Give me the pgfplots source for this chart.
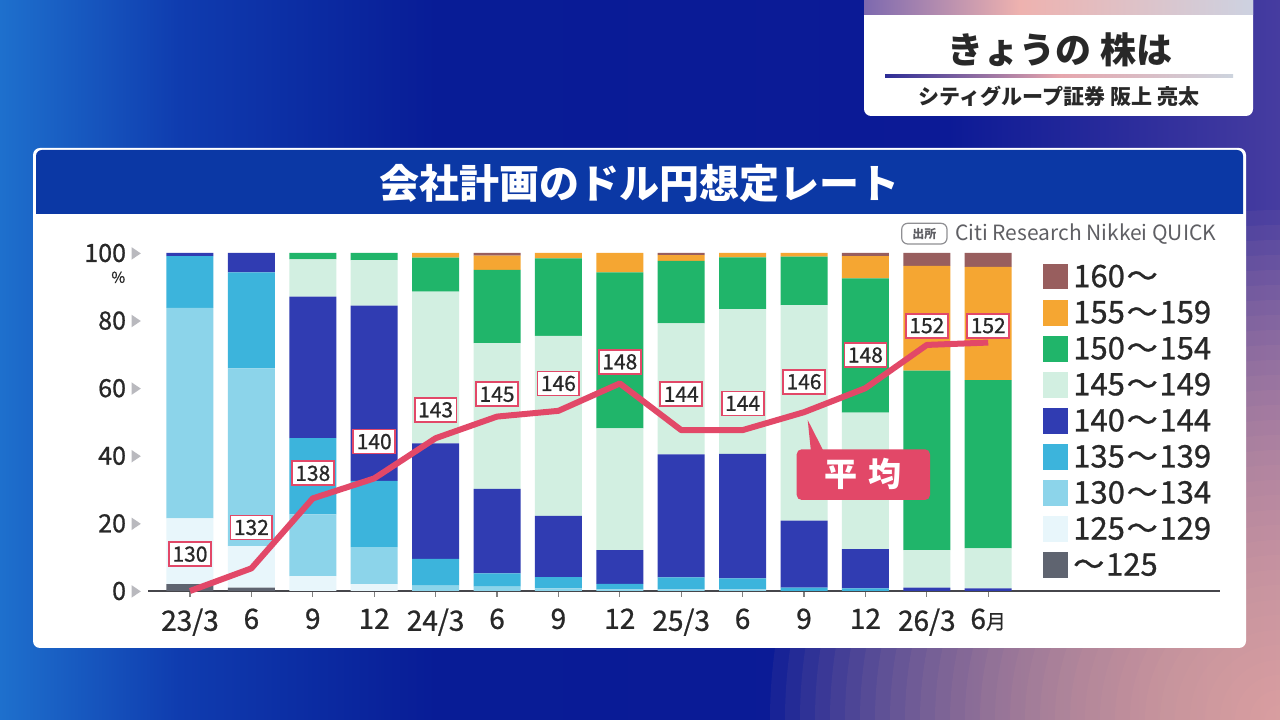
\documentclass[border=0pt]{standalone}
\usepackage{fontspec}
\setmainfont{Noto Sans CJK JP}
\newfontfamily\medfont{Noto Sans CJK JP}[FakeBold=0.8]
\usepackage{pgfplots}
\pgfplotsset{compat=1.18}
\definecolor{c160}{RGB}{152,94,94}
\definecolor{c155}{RGB}{245,166,50}
\definecolor{c150}{RGB}{32,181,106}
\definecolor{c145}{RGB}{210,239,225}
\definecolor{c140}{RGB}{48,60,178}
\definecolor{c135}{RGB}{60,180,220}
\definecolor{c130}{RGB}{140,212,234}
\definecolor{c125}{RGB}{232,246,251}
\definecolor{clow}{RGB}{95,100,112}
\definecolor{avgred}{RGB}{226,72,104}
\definecolor{titleblue}{RGB}{11,56,165}
\definecolor{txt}{RGB}{40,40,40}
\definecolor{srcgray}{RGB}{95,95,100}
\definecolor{trigray}{RGB}{185,185,190}
\definecolor{axisgray}{RGB}{70,70,75}
\definecolor{bg1}{RGB}{30,112,205}
\definecolor{bg2}{RGB}{15,60,175}
\definecolor{bg3}{RGB}{8,28,150}
\definecolor{bg4}{RGB}{12,26,150}
\definecolor{bg5}{RGB}{70,60,160}
\definecolor{glow}{RGB}{250,185,162}
\definecolor{bandL}{RGB}{125,105,175}
\definecolor{bandM}{RGB}{238,178,175}
\definecolor{bandR}{RGB}{205,210,225}
\definecolor{divL}{RGB}{45,45,150}
\definecolor{divM}{RGB}{230,165,172}
\definecolor{divR}{RGB}{205,212,222}
\pgfdeclarehorizontalshading{bgsh}{100bp}{color(0bp)=(bg1); color(25bp)=(bg1); color(32bp)=(bg2); color(42bp)=(bg3); color(62bp)=(bg4); color(75bp)=(bg5); color(100bp)=(bg5)}
\pgfdeclarehorizontalshading{bandsh}{100bp}{color(0bp)=(bandL); color(25bp)=(bandL); color(45bp)=(bandM); color(75bp)=(bandR); color(100bp)=(bandR)}
\pgfdeclarehorizontalshading{divsh}{100bp}{color(0bp)=(divL); color(25bp)=(divL); color(50bp)=(divM); color(75bp)=(divR); color(100bp)=(divR)}
\newcommand{\tl}{\hspace{1.8pt}～\hspace{1.8pt}}
\begin{document}
\begin{tikzpicture}[x=1pt,y=1pt]
\useasboundingbox (0,0) rectangle (1280,720);
\clip (0,0) rectangle (1280,720);
% background
\shade[shading=bgsh] (0,0) rectangle (1280,720);
\foreach \r in {15,30,...,510} {\fill[glow, opacity=0.055] (1280,0) circle (\r);}
% top right box
\fill[white, rounded corners=7pt] (864,604) rectangle (1253,740);
\shade[shading=bandsh] (864,705) rectangle (1253,720);
\node[font=\fontsize{36}{36}\selectfont\bfseries, text=txt] at (1060,670) {きょうの\hspace{9pt}株は};
\shade[shading=divsh] (885,642.5) rectangle (1233,645.5);
\node[font=\fontsize{21}{21}\selectfont\bfseries, text=txt] at (1059,624) {シティグループ証券 阪上 亮太};
% card
\fill[white, rounded corners=7pt] (33,72) rectangle (1246,572);
\fill[titleblue] (36,506) [rounded corners=6pt]-- (36,570) -- (1243,570) [sharp corners]-- (1243,506) -- cycle;
\node[font=\fontsize{40}{40}\selectfont\bfseries, text=white] at (639,537) {会社計画のドル円想定レート};
% source
\draw[srcgray!70, line width=1.2pt, rounded corners=6pt] (901.7,476) rectangle (947,496.7);
\node[font=\fontsize{12}{12}\selectfont\bfseries, text=srcgray] at (924.3,486.3) {出所};
\node[anchor=base west, inner sep=0pt, font=\fontsize{21}{21}\selectfont, text=srcgray] at (955,479.8) {Citi Research Nikkei QUICK};
\node[font=\fontsize{15}{15}\selectfont\medfont, text=txt] at (118.3,442.7) {\%};
\begin{axis}[
  at={(148pt,129pt)}, anchor=south west,
  scale only axis, width=1072pt, height=338pt,
  xmin=-0.684, xmax=16.775, ymin=0, ymax=100,
  ybar stacked, bar width=47pt,
  axis lines*=left,
  y axis line style={draw=none},
  x axis line style={draw=axisgray, line width=2pt},
  ytick={0,20,40,60,80,100},
  ytick style={draw=none},
  yticklabel={\pgfmathprintnumber[assume math mode=true]{\tick}\hspace{5.5pt}\tikz[baseline=0pt]\fill[trigray] (0pt,2.2pt)--(9.3pt,8.5pt)--(0pt,14.8pt)--cycle;},
  yticklabel style={anchor=east, inner sep=0pt, xshift=-7pt, font=\fontsize{25}{25}\selectfont\medfont, text=txt},
  xtick={0,1,...,13},
  xticklabels={23/3,6,9,12,24/3,6,9,12,25/3,6,9,12,26/3,{6{\fontsize{20}{20}\selectfont 月}}},
  xtick align=outside, major tick length=6pt,
  xtick style={draw=gray, line width=1.2pt},
  xticklabel style={font=\fontsize{28}{28}\selectfont\medfont, text=txt, yshift=-8pt},
  legend style={at={(0.8346,0.9678)}, anchor=north west, draw=none, fill=none, inner sep=0pt, outer sep=0pt,
    row sep=10.45pt, font=\fontsize{31}{31}\selectfont\medfont, text=txt,
    nodes={inner sep=0pt, text height=23pt, text depth=2pt},
    /tikz/every odd column/.append style={column sep=5pt}},
  legend cell align=left, reverse legend,
  legend image code/.code={\fill[#1] (0pt,-12.8pt) rectangle (25.6pt,12.8pt);},
]
\addplot[fill=clow, draw=none] coordinates {(0,2) (1,1) (2,0) (3,0) (4,0) (5,0) (6,0) (7,0) (8,0) (9,0) (10,0) (11,0) (12,0) (13,0)};
\addplot[fill=c125, draw=none] coordinates {(0,19.5) (1,12.3) (2,4.4) (3,2.0) (4,0) (5,0) (6,0) (7,0) (8,0) (9,0) (10,0) (11,0) (12,0) (13,0)};
\addplot[fill=c130, draw=none] coordinates {(0,62.3) (1,52.6) (2,18.3) (3,11.0) (4,1.6) (5,1.3) (6,0.8) (7,0.5) (8,0.5) (9,0.5) (10,0) (11,0) (12,0) (13,0)};
\addplot[fill=c135, draw=none] coordinates {(0,15.3) (1,28.4) (2,22.5) (3,19.6) (4,7.9) (5,3.9) (6,3.3) (7,1.6) (8,3.5) (9,3.2) (10,1.0) (11,0.8) (12,0) (13,0)};
\addplot[fill=c140, draw=none] coordinates {(0,0.9) (1,5.7) (2,41.9) (3,51.8) (4,34.2) (5,25.0) (6,18.1) (7,10.0) (8,36.4) (9,36.9) (10,19.8) (11,11.6) (12,1.0) (13,0.8)};
\addplot[fill=c145, draw=none] coordinates {(0,0) (1,0) (2,11.0) (3,13.5) (4,44.9) (5,43.1) (6,53.3) (7,36.0) (8,38.8) (9,42.8) (10,63.8) (11,40.4) (12,11.1) (13,11.8)};
\addplot[fill=c150, draw=none] coordinates {(0,0) (1,0) (2,1.9) (3,2.1) (4,10.0) (5,21.7) (6,22.9) (7,46.2) (8,18.5) (9,15.3) (10,14.3) (11,39.7) (12,53.1) (13,49.8)};
\addplot[fill=c155, draw=none] coordinates {(0,0) (1,0) (2,0) (3,0) (4,1.4) (5,4.2) (6,1.6) (7,5.7) (8,1.7) (9,1.3) (10,1.1) (11,6.6) (12,31.0) (13,33.5)};
\addplot[fill=c160, draw=none] coordinates {(0,0) (1,0) (2,0) (3,0) (4,0) (5,0.8) (6,0) (7,0) (8,0.6) (9,0) (10,0) (11,0.9) (12,3.8) (13,4.1)};
\legend{～\hspace{1.8pt}125,125\tl 129,130\tl 134,135\tl 139,140\tl 144,145\tl 149,150\tl 154,155\tl 159,160\hspace{1.8pt}～}
\end{axis}
\begin{axis}[
  at={(148pt,129pt)}, anchor=south west,
  scale only axis, width=1072pt, height=338pt,
  xmin=-0.684, xmax=16.775, ymin=0, ymax=100,
  axis lines=none, clip=false,
]
\addplot[avgred, line width=6pt, line join=round, mark=none] coordinates {(0,0) (1,6.7) (2,27.4) (3,33.3) (4,45.2) (5,51.6) (6,53.3) (7,61.4) (8,47.6) (9,47.6) (10,52.9) (11,60.0) (12,72.8) (13,73.5)};
\addplot[draw=none, mark=none, nodes near coords, point meta=explicit symbolic,
  every node near coord/.style={anchor=center, draw=avgred, line width=1.8pt, fill=white, inner xsep=3.5pt, inner ysep=4.5pt, text height=15pt, text depth=0pt, font=\fontsize{21}{21}\selectfont\medfont, text=txt}]
  coordinates {(0,10.9)[130] (1,18.8)[132] (2,34.8)[138] (3,44.2)[140] (4,53.6)[143] (5,58.2)[145] (6,61.4)[146] (7,67.8)[148] (8,58.2)[144] (9,55.5)[144] (10,61.9)[146] (11,69.8)[148] (12,78.5)[152] (13,78.5)[152]};
\end{axis}
% callout
\fill[avgred, rounded corners=5pt] (796.7,220) rectangle (930,270.7);
\fill[avgred] (811,268) -- (807.7,300) -- (824,268) -- cycle;
\node[font=\fontsize{33}{33}\selectfont\bfseries, text=white] at (863,246) {平\hspace{11pt}均};
\end{tikzpicture}
\end{document}
